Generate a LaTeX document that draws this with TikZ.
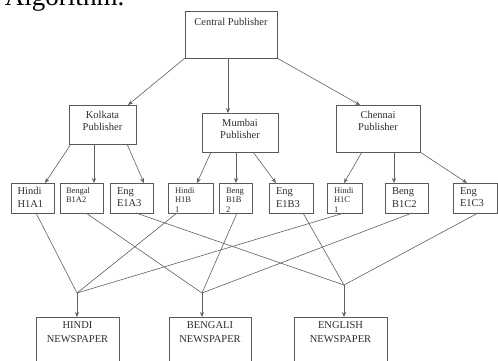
\documentclass[tikz,border=0pt]{standalone}
\usepackage{fontspec}
\setmainfont{Liberation Serif}
\usetikzlibrary{arrows.meta}
\begin{document}
\begin{tikzpicture}[x=1pt,y=-1pt,
  box/.style={draw=black!65, line width=0.8pt, inner sep=0pt, outer sep=0pt, anchor=north west},
  conn/.style={draw=black!62, line width=0.6pt},
  arr/.style={conn, -{Stealth[length=5pt,width=4pt]}},
  txt/.style={inner sep=0pt, outer sep=0pt, text=black!82},
  big/.style={txt, font=\fontsize{10.5}{12.5}\selectfont},
  sml/.style={txt, font=\fontsize{8.5}{9.5}\selectfont}]
\path[use as bounding box] (0,0) rectangle (498,360);
\clip (0,0) rectangle (498,360);
\fill[white] (0,0) rectangle (498,360);

% heading (cut off at the top)
\node[txt, font=\fontsize{27}{30}\selectfont, text=black, anchor=base west] (alg) at (5,5.5) {Algorithm.};

% boxes
\node[box, minimum width=92pt, minimum height=47pt] (cp) at (185,11) {};
\node[box, minimum width=67pt, minimum height=39pt] (kol) at (69,105) {};
\node[box, minimum width=76pt, minimum height=39pt] (mum) at (202,113) {};
\node[box, minimum width=84pt, minimum height=47pt] (che) at (336,105) {};

\node[box, minimum width=43pt, minimum height=30pt] (h1) at (11,183) {};
\node[box, minimum width=43pt, minimum height=30pt] (b1) at (60,183) {};
\node[box, minimum width=43pt, minimum height=30pt] (e1) at (110,183) {};
\node[box, minimum width=45pt, minimum height=30pt] (h2) at (168,183) {};
\node[box, minimum width=33pt, minimum height=30pt] (b2) at (219,183) {};
\node[box, minimum width=44pt, minimum height=30pt] (e2) at (269,183) {};
\node[box, minimum width=35pt, minimum height=30pt] (h3) at (327,183) {};
\node[box, minimum width=43pt, minimum height=30pt] (b3) at (385,183) {};
\node[box, minimum width=44pt, minimum height=30pt] (e3) at (453,183) {};

\node[box, minimum width=83pt, minimum height=50pt] (hn) at (36,317) {};
\node[box, minimum width=82pt, minimum height=50pt] (bn) at (169,317) {};
\node[box, minimum width=93pt, minimum height=50pt] (en) at (294,317) {};

% texts
\node[big, anchor=north] (tcp) at ([yshift=-7pt]cp.north) {Central Publisher};
\node[big, anchor=north, align=center] (tkol) at ([yshift=-6pt]kol.north) {Kolkata\\Publisher};
\node[big, anchor=north, align=center] (tmum) at ([yshift=-6pt]mum.north) {Mumbai\\Publisher};
\node[big, anchor=north, align=center] (tche) at ([yshift=-6pt]che.north) {Chennai\\Publisher};

\node[big, anchor=north west, align=left] (th1) at ([shift={(6.5pt,-4.5pt)}]h1.north west) {Hindi\\H1A1};
\node[sml, anchor=north west, align=left] (tb1) at ([shift={(6pt,-4.5pt)}]b1.north west) {Bengal\\B1A2};
\node[big, anchor=north west, align=left] (te1) at ([shift={(7pt,-4.5pt)}]e1.north west) {Eng\\E1A3};
\node[sml, anchor=north west, align=left] (th2) at ([shift={(7pt,-4.5pt)}]h2.north west) {Hindi\\H1B\\1};
\node[sml, anchor=north west, align=left] (tb2) at ([shift={(7pt,-4.5pt)}]b2.north west) {Beng\\B1B\\2};
\node[big, anchor=north west, align=left] (te2) at ([shift={(7pt,-5pt)}]e2.north west) {Eng\\E1B3};
\node[sml, anchor=north west, align=left] (th3) at ([shift={(7pt,-4.5pt)}]h3.north west) {Hindi\\H1C\\1};
\node[big, anchor=north west, align=left] (tb3) at ([shift={(7pt,-5pt)}]b3.north west) {Beng\\B1C2};
\node[big, anchor=north west, align=left] (te3) at ([shift={(7pt,-4.5pt)}]e3.north west) {Eng\\E1C3};

\node[big, anchor=north, align=center, font=\fontsize{10.5}{14}\selectfont] (thn) at ([yshift=-5pt]hn.north) {HINDI\\NEWSPAPER};
\node[big, anchor=north, align=center, font=\fontsize{10.5}{14}\selectfont] (tbn) at ([yshift=-5pt]bn.north) {BENGALI\\NEWSPAPER};
\node[big, anchor=north, align=center, font=\fontsize{10.5}{14}\selectfont] (ten) at ([yshift=-5pt]en.north) {ENGLISH\\NEWSPAPER};

% central -> regional
\draw[arr] (cp.south west) -- ([xshift=59pt]kol.north west);
\draw[arr] ([xshift=43pt]cp.south west) -- ([xshift=26pt]mum.north west);
\draw[arr] (cp.south east) -- ([xshift=24pt]che.north west);

% regional -> language boxes
\draw[arr] ([xshift=2pt]kol.south west) -- ([xshift=34pt]h1.north west);
\draw[arr] ([xshift=25pt]kol.south west) -- ([xshift=34pt]b1.north west);
\draw[arr] ([xshift=58pt]kol.south west) -- ([xshift=34pt]e1.north west);
\draw[arr] ([xshift=9pt]mum.south west) -- ([xshift=29pt]h2.north west);
\draw[arr] ([xshift=34pt]mum.south west) -- ([xshift=17pt]b2.north west);
\draw[arr] ([xshift=51pt]mum.south west) -- ([xshift=7pt]e2.north west);
\draw[arr] ([xshift=26pt]che.south west) -- ([xshift=17pt]h3.north west);
\draw[arr] ([xshift=58pt]che.south west) -- ([xshift=9pt]b3.north west);
\draw[arr] (che.south east) -- ([xshift=14pt]e3.north west);

% junctions
\coordinate (jh) at (77,293);
\coordinate (jb) at (202,293);
\coordinate (je) at (344,285);

\draw[conn] ([xshift=25pt]h1.south west) -- (jh);
\draw[conn] ([xshift=9pt]h2.south west) -- (jh);
\draw[conn] ([xshift=17pt]h3.south west) -- (jh);
\draw[conn] ([xshift=26pt]b1.south west) -- (jb);
\draw[conn] ([xshift=18pt]b2.south west) -- (jb);
\draw[conn] ([xshift=27pt]b3.south west) -- (jb);
\draw[conn] ([xshift=26pt]e1.south west) -- (je);
\draw[conn] ([xshift=34pt]e2.south west) -- (je);
\draw[conn] ([xshift=25pt]e3.south west) -- (je);

\draw[arr] (jh) -- (hn.north -| jh);
\draw[arr] (jb) -- (bn.north -| jb);
\draw[arr] (je) -- (en.north -| je);
\end{tikzpicture}
\end{document}
